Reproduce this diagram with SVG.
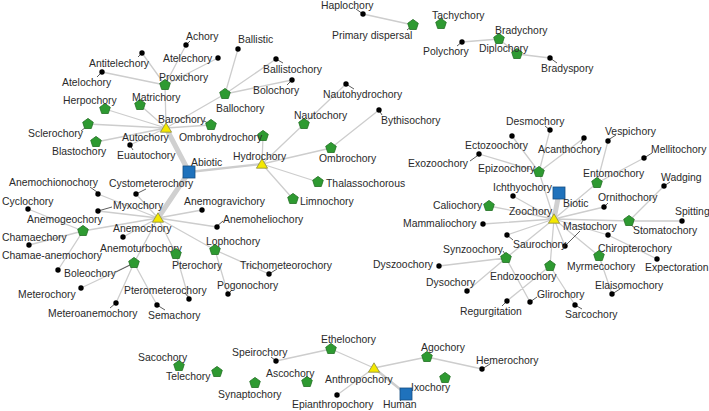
<svg xmlns="http://www.w3.org/2000/svg" xmlns:xlink="http://www.w3.org/1999/xlink" width="709" height="411" viewBox="0 0 709 411">
<style>
text{font-family:"Liberation Sans",Arial,sans-serif;font-size:10.4px;fill:#2a2a2a}
.e{stroke:#cdcdcd;stroke-width:1.3;fill:none}
.t{stroke:#d0d0d0;stroke-width:5;fill:none}
.m{stroke:#cdcdcd;stroke-width:2.4;fill:none}
.l{stroke:#333;stroke-width:0.8;fill:none}
</style>
<defs>
<path id="pent" d="M0,-5.6L5.3,-1.7L3.3,4.5L-3.3,4.5L-5.3,-1.7Z" fill="#2e9a31" stroke="#1f6e21" stroke-width="0.8"/>
<path id="tri" d="M0,-5.2L5.6,4.2L-5.6,4.2Z" fill="#f4e800" stroke="#8a8a40" stroke-width="0.8"/>
<rect id="sq" x="-6" y="-6" width="12" height="12" fill="#1f72bc" stroke="#164e82" stroke-width="0.8"/>
<circle id="dot" r="2.7" fill="#000"/>
</defs>
<rect width="709" height="411" fill="#fff"/>
<g id="connectors">
<path class="t" d="M189,172L166,128M189,172L158,218M559,193L554,219"/>
<path class="m" d="M189,172L262,164M374,368L406,394"/>
<path class="e" d="M166,128L165,85M166,128L140,105M166,128L105,109M166,128L88,124M166,128L96,142M166,128L130,145M166,128L211,125M166,128L225,94
M165,85L142,53M165,85L102,72M165,85L186,45M165,85L218,58
M225,94L238,49M225,94L276,59M225,94L292,80
M262,164L263,136M262,164L304,124M262,164L331,148M262,164L318,182M262,164L293,199
M304,124L346,84M331,148L379,110
M158,218L98,194M158,218L136,194M158,218L98,211M158,218L83,231M158,218L202,210M158,218L217,227M158,218L123,237M158,218L215,250M158,218L176,254M158,218L134,263
M83,231L28,209M83,231L29,245M83,231L58,270
M134,263L81,288M134,263L116,303M134,263L157,305
M176,254L189,299M215,250L228,294M215,250L269,274
M413,25L363,14M462,42L499,39M499,39L517,54M517,54L550,58
M554,219L539,172M554,219L513,196M554,219L489,206M554,219L483,224M554,219L507,235M554,219L506,258M554,219L550,266M554,219L599,256M554,219L608,235M554,219L629,221M554,219L604,207M554,219L597,183M554,219L565,246
M539,172L479,154M539,172L512,136M539,172L550,130M539,172L584,138
M597,183L608,141M597,183L644,158
M629,221L664,186M629,221L682,221M608,235L657,259M599,256L612,294
M506,258L439,266M506,258L467,291M506,258L530,302
M550,266L507,301M550,266L575,305
M374,368L331,349M374,368L427,357M374,368L337,395M331,349L276,361M427,357L482,369"/>
<path class="l" d="M565,246L580,231M116,272L130,265M98,211L112,207M136,194L146,189M90,187L97,192M216,227L223,221M116,303L110,308M157,305L165,310M269,274L277,269M228,294L232,290M271,357L275,360M400,401L404,397M482,369L490,364M507,301L502,306M530,302L537,297M575,305L582,309M612,294L620,289M503,251L505,254M631,225L635,228M664,186L670,182M604,207L608,203M644,158L652,153M608,140L616,135M584,138L581,144M550,130L545,126M470,161L477,156M507,235L513,240M276,59L283,63M292,80L287,85M346,84L354,89M379,110L382,115M462,42L457,46M550,58L557,63M363,14L356,9M413,25L407,30M102,72L97,77M142,53L138,57M186,45L190,41M130,145L133,150M81,131L86,127M204,121L208,123M185,293L189,298"/>
</g>
<g id="n-abiotic"><use href="#sq" x="189" y="172"/><text x="191" y="166">Abiotic</text></g>
<g id="n-autochory"><use href="#tri" x="166" y="128"/><text x="122" y="141">Autochory</text></g>
<g id="n-hydrochory"><use href="#tri" x="262" y="164"/><text x="233" y="160">Hydrochory</text></g>
<g id="n-anemochory"><use href="#tri" x="158" y="218"/><text x="113" y="232">Anemochory</text></g>
<g id="n-barochory"><use href="#pent" x="211" y="125"/><text x="158" y="123">Barochory</text></g>
<g id="n-proxichory"><use href="#pent" x="165" y="85"/><text x="159" y="81">Proxichory</text></g>
<g id="n-matrichory"><use href="#pent" x="140" y="105"/><text x="132" y="101">Matrichory</text></g>
<g id="n-herpochory"><use href="#pent" x="105" y="109"/><text x="63" y="104">Herpochory</text></g>
<g id="n-sclerochory"><use href="#pent" x="88" y="124"/><text x="28" y="137">Sclerochory</text></g>
<g id="n-blastochory"><use href="#pent" x="96" y="142"/><text x="52" y="155">Blastochory</text></g>
<g id="n-euautochory"><use href="#dot" x="130" y="145"/><text x="117" y="159">Euautochory</text></g>
<g id="n-ballochory"><use href="#pent" x="225" y="94"/><text x="216" y="112">Ballochory</text></g>
<g id="n-achory"><use href="#dot" x="186" y="45"/><text x="186" y="40">Achory</text></g>
<g id="n-antitelechory"><use href="#dot" x="142" y="53"/><text x="89" y="67">Antitelechory</text></g>
<g id="n-atelechory"><use href="#dot" x="218" y="58"/><text x="163" y="62">Atelechory</text></g>
<g id="n-atelochory"><use href="#dot" x="102" y="72"/><text x="62" y="86">Atelochory</text></g>
<g id="n-ballistic"><use href="#dot" x="238" y="49"/><text x="238" y="43">Ballistic</text></g>
<g id="n-ballistochory"><use href="#dot" x="276" y="59"/><text x="263" y="73">Ballistochory</text></g>
<g id="n-bolochory"><use href="#dot" x="292" y="80"/><text x="253" y="94">Bolochory</text></g>
<g id="n-ombrohydrochory"><use href="#pent" x="263" y="136"/><text x="179" y="141">Ombrohydrochory</text></g>
<g id="n-nautochory"><use href="#pent" x="304" y="124"/><text x="294" y="119">Nautochory</text></g>
<g id="n-nautohydrochory"><use href="#dot" x="346" y="84"/><text x="323" y="98">Nautohydrochory</text></g>
<g id="n-ombrochory"><use href="#pent" x="331" y="148"/><text x="319" y="162">Ombrochory</text></g>
<g id="n-bythisochory"><use href="#dot" x="379" y="110"/><text x="381" y="124">Bythisochory</text></g>
<g id="n-thalassochorous"><use href="#pent" x="318" y="182"/><text x="326" y="187">Thalassochorous</text></g>
<g id="n-limnochory"><use href="#pent" x="293" y="199"/><text x="300" y="205">Limnochory</text></g>
<g id="n-haplochory"><use href="#dot" x="363" y="14"/><text x="321" y="9">Haplochory</text></g>
<g id="n-primary"><use href="#pent" x="413" y="25"/><text x="332" y="39">Primary dispersal</text></g>
<g id="n-tachychory"><use href="#pent" x="441" y="24"/><text x="432" y="19">Tachychory</text></g>
<g id="n-polychory"><use href="#dot" x="462" y="42"/><text x="423" y="55">Polychory</text></g>
<g id="n-bradychory"><use href="#pent" x="499" y="39"/><text x="495" y="34">Bradychory</text></g>
<g id="n-diplochory"><use href="#pent" x="517" y="54"/><text x="479" y="52">Diplochory</text></g>
<g id="n-bradyspory"><use href="#dot" x="550" y="58"/><text x="541" y="72">Bradyspory</text></g>
<g id="n-anemochionochory"><use href="#dot" x="98" y="194"/><text x="9" y="186">Anemochionochory</text></g>
<g id="n-cystometerochory"><use href="#dot" x="136" y="194"/><text x="109" y="187">Cystometerochory</text></g>
<g id="n-cyclochory"><use href="#dot" x="28" y="209"/><text x="2" y="205">Cyclochory</text></g>
<g id="n-myxochory"><use href="#dot" x="98" y="211"/><text x="113" y="209">Myxochory</text></g>
<g id="n-anemogeochory"><use href="#pent" x="83" y="231"/><text x="27" y="223">Anemogeochory</text></g>
<g id="n-anemogravichory"><use href="#dot" x="202" y="210"/><text x="184" y="205">Anemogravichory</text></g>
<g id="n-anemoheliochory"><use href="#dot" x="217" y="227"/><text x="223" y="223">Anemoheliochory</text></g>
<g id="n-chamaechory"><use href="#dot" x="29" y="245"/><text x="2" y="241">Chamaechory</text></g>
<g id="n-anemoturbochory"><use href="#dot" x="123" y="237"/><text x="100" y="252">Anemoturbochory</text></g>
<g id="n-chamaeanemochory"><use href="#dot" x="58" y="270"/><text x="2" y="259">Chamae-anemochory</text></g>
<g id="n-lophochory"><use href="#pent" x="215" y="250"/><text x="206" y="245">Lophochory</text></g>
<g id="n-pterochory"><use href="#pent" x="176" y="254"/><text x="172" y="269">Pterochory</text></g>
<g id="n-boleochory"><use href="#pent" x="134" y="263"/><text x="64" y="277">Boleochory</text></g>
<g id="n-trichometeorochory"><use href="#dot" x="269" y="274"/><text x="240" y="269">Trichometeorochory</text></g>
<g id="n-pogonochory"><use href="#dot" x="228" y="294"/><text x="217" y="289">Pogonochory</text></g>
<g id="n-pterometerochory"><use href="#dot" x="189" y="299"/><text x="124" y="294">Pterometerochory</text></g>
<g id="n-meterochory"><use href="#dot" x="81" y="288"/><text x="18" y="298">Meterochory</text></g>
<g id="n-meteroanemochory"><use href="#dot" x="116" y="303"/><text x="48" y="317">Meteroanemochory</text></g>
<g id="n-semachory"><use href="#dot" x="157" y="305"/><text x="148" y="319">Semachory</text></g>
<g id="n-sacochory"><use href="#pent" x="179" y="366"/><text x="138" y="361">Sacochory</text></g>
<g id="n-telechory"><use href="#pent" x="217" y="372"/><text x="166" y="380">Telechory</text></g>
<g id="n-synaptochory"><use href="#pent" x="255" y="383"/><text x="218" y="398">Synaptochory</text></g>
<g id="n-speirochory"><use href="#dot" x="276" y="361"/><text x="232" y="356">Speirochory</text></g>
<g id="n-ethelochory"><use href="#pent" x="331" y="349"/><text x="321" y="343">Ethelochory</text></g>
<g id="n-ascochory"><use href="#pent" x="307" y="382"/><text x="266" y="377">Ascochory</text></g>
<g id="n-anthropochory"><use href="#tri" x="374" y="368"/><text x="325" y="383">Anthropochory</text></g>
<g id="n-epianthropochory"><use href="#dot" x="337" y="395"/><text x="292" y="408">Epianthropochory</text></g>
<g id="n-agochory"><use href="#pent" x="427" y="357"/><text x="421" y="351">Agochory</text></g>
<g id="n-ixochory"><use href="#pent" x="445" y="378"/><text x="411" y="391">Ixochory</text></g>
<g id="n-human"><use href="#sq" x="406" y="394"/><text x="383" y="408">Human</text></g>
<g id="n-hemerochory"><use href="#dot" x="482" y="369"/><text x="476" y="364">Hemerochory</text></g>
<g id="n-biotic"><use href="#sq" x="559" y="193"/><text x="563" y="207">Biotic</text></g>
<g id="n-zoochory"><use href="#tri" x="554" y="219"/><text x="509" y="215">Zoochory</text></g>
<g id="n-desmochory"><use href="#dot" x="550" y="130"/><text x="506" y="125">Desmochory</text></g>
<g id="n-ectozoochory"><use href="#dot" x="512" y="136"/><text x="465" y="149">Ectozoochory</text></g>
<g id="n-exozoochory"><use href="#dot" x="479" y="154"/><text x="408" y="167">Exozoochory</text></g>
<g id="n-acanthochory"><use href="#dot" x="584" y="138"/><text x="538" y="153">Acanthochory</text></g>
<g id="n-vespichory"><use href="#dot" x="608" y="141"/><text x="605" y="135">Vespichory</text></g>
<g id="n-mellitochory"><use href="#dot" x="644" y="158"/><text x="651" y="153">Mellitochory</text></g>
<g id="n-epizoochory"><use href="#pent" x="539" y="172"/><text x="478" y="172">Epizoochory</text></g>
<g id="n-entomochory"><use href="#pent" x="597" y="183"/><text x="583" y="177">Entomochory</text></g>
<g id="n-wadging"><use href="#dot" x="664" y="186"/><text x="661" y="181">Wadging</text></g>
<g id="n-ichthyochory"><use href="#dot" x="513" y="196"/><text x="493" y="191">Ichthyochory</text></g>
<g id="n-ornithochory"><use href="#dot" x="604" y="207"/><text x="598" y="201">Ornithochory</text></g>
<g id="n-caliochory"><use href="#pent" x="489" y="206"/><text x="433" y="209">Caliochory</text></g>
<g id="n-mammaliochory"><use href="#dot" x="483" y="224"/><text x="403" y="227">Mammaliochory</text></g>
<g id="n-stomatochory"><use href="#pent" x="629" y="221"/><text x="633" y="234">Stomatochory</text></g>
<g id="n-spitting"><use href="#dot" x="682" y="221"/><text x="675" y="215">Spitting</text></g>
<g id="n-mastochory"><use href="#dot" x="565" y="246"/><text x="563" y="230">Mastochory</text></g>
<g id="n-saurochory"><use href="#dot" x="507" y="235"/><text x="513" y="248">Saurochory</text></g>
<g id="n-chiropterochory"><use href="#dot" x="608" y="235"/><text x="598" y="252">Chiropterochory</text></g>
<g id="n-synzoochory"><use href="#pent" x="506" y="258"/><text x="443" y="253">Synzoochory</text></g>
<g id="n-dyszoochory"><use href="#dot" x="439" y="266"/><text x="373" y="268">Dyszoochory</text></g>
<g id="n-myrmecochory"><use href="#pent" x="599" y="256"/><text x="567" y="270">Myrmecochory</text></g>
<g id="n-expectoration"><use href="#dot" x="657" y="259"/><text x="645" y="271">Expectoration</text></g>
<g id="n-endozoochory"><use href="#pent" x="550" y="266"/><text x="490" y="280">Endozoochory</text></g>
<g id="n-dysochory"><use href="#dot" x="467" y="291"/><text x="426" y="286">Dysochory</text></g>
<g id="n-elaisomochory"><use href="#dot" x="612" y="294"/><text x="595" y="289">Elaisomochory</text></g>
<g id="n-glirochory"><use href="#dot" x="530" y="302"/><text x="537" y="298">Glirochory</text></g>
<g id="n-regurgitation"><use href="#dot" x="507" y="301"/><text x="460" y="315">Regurgitation</text></g>
<g id="n-sarcochory"><use href="#dot" x="575" y="305"/><text x="565" y="318">Sarcochory</text></g>
</svg>
